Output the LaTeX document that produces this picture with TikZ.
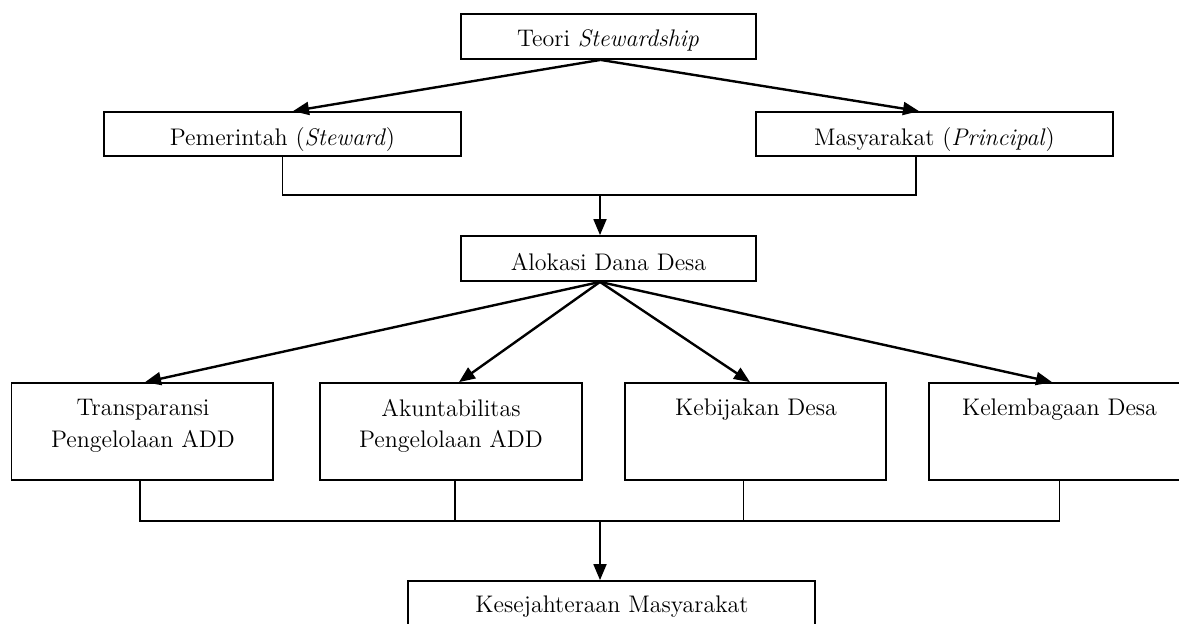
\documentclass[tikz,border=0pt]{standalone}
\usetikzlibrary{arrows.meta}

\begin{document}
\begin{tikzpicture}[x=0.5pt, y=-0.5pt,
    font=\fontsize{12pt}{15.8pt}\selectfont,
    box/.style={draw, line width=0.9pt, inner sep=0pt},
    word/.style={inner sep=1pt, align=center},
    line/.style={line width=0.9pt},
    arr/.style={line width=1.2pt, -{Triangle[length=8pt, width=6.5pt]}}]

    \useasboundingbox (0, 0) rectangle (1179, 623);
    \clip (0, 0) rectangle (1179, 623);

    % boxes
    \node (teori) at (608.5, 36.5) [box, minimum width=147.5pt, minimum height=22.5pt] {};
    \node (pem) at (282.5, 134) [box, minimum width=178.5pt, minimum height=22pt] {};
    \node (mas) at (934.5, 134) [box, minimum width=178.5pt, minimum height=22pt] {};
    \node (alok) at (608.5, 258.5) [box, minimum width=147.5pt, minimum height=22.5pt] {};

    \foreach \name/\x in {transp/142.25, akunt/451, kebij/755.5, kelem/1059.5} {
        \node (\name) at (\x, 431.5) [box, minimum width=130.75pt, minimum height=48.5pt] {};
    }

    \node (kes) at (611.5, 621) [box, minimum width=203.5pt, minimum height=40pt] {};

    % texts
    \node (teori-t) at (608, 40) [word] {Teori \textit{Stewardship}};
    \node (pem-t) at (282.5, 140) [word] {Pemerintah (\textit{Steward})};
    \node (mas-t) at (934.5, 140) [word] {Masyarakat (\textit{Principal})};
    \node (alok-t) at (608.5, 262) [word] {Alokasi Dana Desa};
    \node (transp-t) at (143, 426) [word] {Transparansi\\Pengelolaan ADD};
    \node (akunt-t) at (451, 426) [word] {Akuntabilitas\\Pengelolaan ADD};
    \node (kebij-t) at (756, 409.5) [word] {Kebijakan Desa};
    \node (kelem-t) at (1059.5, 409.5) [word] {Kelembagaan Desa};
    \node (kes-t) at (612, 607) [word] {Kesejahteraan Masyarakat};

    % teori
    \draw [arr] ([xshift=-4pt]teori.south) -- ([xshift=5.25pt]pem.north);
    \draw [arr] ([xshift=-4pt]teori.south) -- ([xshift=-7.75pt]mas.north);

    % pemerintah, masyarakat
    \coordinate (j1) at (600, 195);
    \draw [line] (pem.south) |- (j1) -| ([xshift=-9.25pt]mas.south);
    \draw [arr, line width=0.9pt] (j1) -- ([xshift=-4.25pt]alok.north);

    % alokasi
    \foreach \name/\s in {transp/1.4pt, akunt/4pt, kebij/-2.75pt, kelem/-3.75pt} {
        \draw [arr] ([xshift=-4.25pt]alok.south) -- ([xshift=\s]\name.north);
    }

    % kesejahteraan
    \coordinate (j2) at (600, 521);
    \draw [line] ([xshift=-1.1pt]transp.south) |- (j2) -| (kelem.south);
    \draw [line] ([xshift=2pt]akunt.south) -- ([xshift=2pt]akunt.south |- j2);
    \draw [line] ([xshift=-6pt]kebij.south) -- ([xshift=-6pt]kebij.south |- j2);
    \draw [arr, line width=0.9pt] (j2) -- ([xshift=-5.75pt]kes.north);
\end{tikzpicture}
\end{document}
